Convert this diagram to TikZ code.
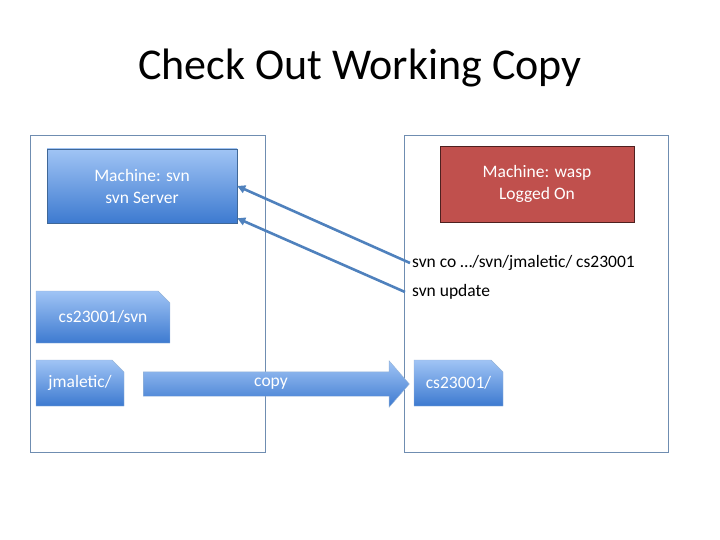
\documentclass[tikz,border=0pt]{standalone}
\usepackage{fontspec}
\setmainfont{Carlito}
\usetikzlibrary{arrows.meta}
\usetikzlibrary{shapes.misc,shapes.arrows}
\usetikzlibrary{calc,positioning}

\definecolor{frameline}{HTML}{6F8DB1}
\definecolor{blueline}{HTML}{4F81BD}
\definecolor{bluetop}{HTML}{A0C4F5}
\definecolor{bluebot}{HTML}{3D7AD0}
\definecolor{waspred}{HTML}{C0504D}

\tikzset{
  frame/.style={draw=frameline, line width=0.8pt, inner sep=0pt},
  machine/.style={inner sep=0pt, align=center, text=white,
    font=\fontsize{17.5}{22}\selectfont},
  bluebox/.style={machine, draw=blueline!80!black, line width=0.5pt,
    top color=bluetop, bottom color=bluebot},
  folder/.style={chamfered rectangle, chamfered rectangle corners=north east,
    chamfered rectangle xsep=6pt, chamfered rectangle ysep=6pt,
    inner sep=0pt, text=white, font=\fontsize{17.5}{20}\selectfont,
    top color=bluetop, bottom color=bluebot,
    draw=blueline!60, line width=0.4pt},
  cmd/.style={anchor=west, inner sep=2pt, font=\fontsize{17.5}{20}\selectfont},
  push/.style={draw=blueline, line width=2.6pt,
    -{Triangle[length=8pt,width=8pt]}},
}

\begin{document}
\begin{tikzpicture}[x=1pt, y=-1pt]

    \useasboundingbox (0,0) rectangle (720,540);

    \node (title) at (360,68) {\fontsize{44}{52}\selectfont Check Out Working Copy};

    % the two machines
    \node[frame, minimum width=235pt, minimum height=317pt] (svnframe) at (147.5,293.5) {};
    \node[frame, minimum width=264pt, minimum height=317pt] (waspframe) at (536,293.5) {};

    \node[bluebox, minimum width=190pt, minimum height=74pt] (server) at (142,186)
        {Machine: svn\\svn Server};
    \node[machine, fill=waspred, draw=waspred!40!black, line width=0.6pt,
        minimum width=194pt, minimum height=76pt] (wasp) at (537,184)
        {Machine: wasp\\Logged On};

    % commands run on wasp
    \node[cmd] (co) at (410,263) {svn co \dots/svn/jmaletic/ cs23001};
    \node[cmd] (update) at (410,292) {svn update};
    \coordinate (updfrom) at (405,292);

    \draw[push] (co.west) -- (server.east);
    \draw[push] (updfrom) -- ($(server.south east)+(0,-5)$);

    % folders
    \node[folder, minimum width=134pt, minimum height=52pt] (repo) at (103,317) {cs23001/svn};
    \node[folder, minimum width=88pt, minimum height=46pt] (jmaletic) at (80,383) {jmaletic/};
    \node[folder, minimum width=89pt, minimum height=46pt] (working) at (458.5,383) {cs23001/};

    \node[single arrow, single arrow head extend=11pt, shape border rotate=0,
        minimum height=266pt, single arrow tip angle=98,
        text height=8pt, text depth=3pt, inner ysep=6.5pt, inner xsep=0pt,
        top color=bluetop, bottom color=bluebot, draw=blueline!60, line width=0.4pt,
        text=white, font=\fontsize{17.5}{20}\selectfont] (copy) at (271,384) {copy};

\end{tikzpicture}
\end{document}
